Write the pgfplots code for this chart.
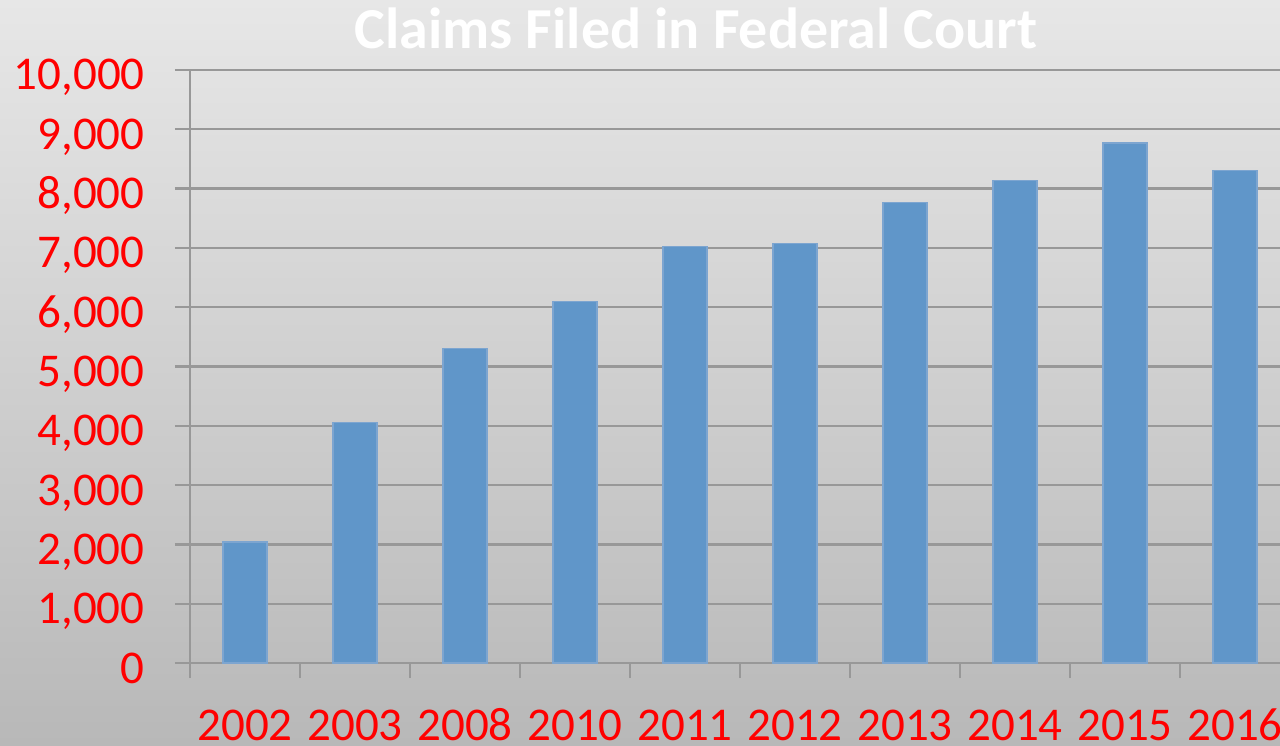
\documentclass[border=0pt]{standalone}
\usepackage{pgfplots}
\pgfplotsset{compat=1.18}
\usepackage{fontspec}
\setmainfont{Carlito}
\definecolor{barblue}{RGB}{96,150,201}
\definecolor{baredge}{RGB}{125,165,208}
\definecolor{gridgray}{RGB}{152,152,152}
\begin{document}
\begin{tikzpicture}
\useasboundingbox (0,0) rectangle (640pt,372.5pt);
\clip (0,0) rectangle (640pt,372.5pt);
\shade[top color={rgb,255:red,231;green,231;blue,231}, bottom color={rgb,255:red,184;green,184;blue,184}] (0,0) rectangle (640pt,372.5pt);
\begin{axis}[
  at={(95pt,41pt)}, anchor=south west,
  scale only axis, width=550pt, height=296.5pt,
  xmin=-0.5, xmax=9.5, ymin=0, ymax=10000,
  ybar, bar width=22pt,
  axis x line*=bottom, axis y line*=left,
  axis line style={draw=gridgray, line width=1.2pt, -},
  ytick={0,1000,...,10000},
  ymajorgrids, grid style={draw=gridgray, line width=1.2pt},
  tick align=outside,
  major tick length=7.5pt,
  tick style={draw=gridgray, line width=1.2pt},
  xtick={0,...,9},
  xticklabels={2002,2003,2008,2010,2011,2012,2013,2014,2015,2016},
  major x tick style={draw=none},
  extra x ticks={-0.5,0.5,1.5,2.5,3.5,4.5,5.5,6.5,7.5,8.5,9.5},
  extra x tick labels={},
  extra x tick style={major x tick style={draw=gridgray, line width=1.2pt}, xmajorgrids=false},
  /pgf/number format/assume math mode=true,
  /pgf/number format/1000 sep={,},
  scaled y ticks=false,
  yticklabel style={red, font=\fontsize{23.5}{24}\selectfont, anchor=base east, inner sep=0pt, xshift=-15pt, yshift=-10pt},
  xticklabel style={red, font=\fontsize{23.5}{24}\selectfont, anchor=base, inner sep=0pt, yshift=-31pt},
]
\addplot[fill=barblue, draw=baredge, line width=0.6pt] coordinates {
  (0,2040) (1,4050) (2,5300) (3,6090) (4,7020)
  (5,7070) (6,7760) (7,8130) (8,8770) (9,8300)
};
\end{axis}
\node[anchor=base, white, font=\fontsize{29}{29}\selectfont\bfseries] at (348pt,348pt) {Claims Filed in Federal Court};
\end{tikzpicture}
\end{document}
